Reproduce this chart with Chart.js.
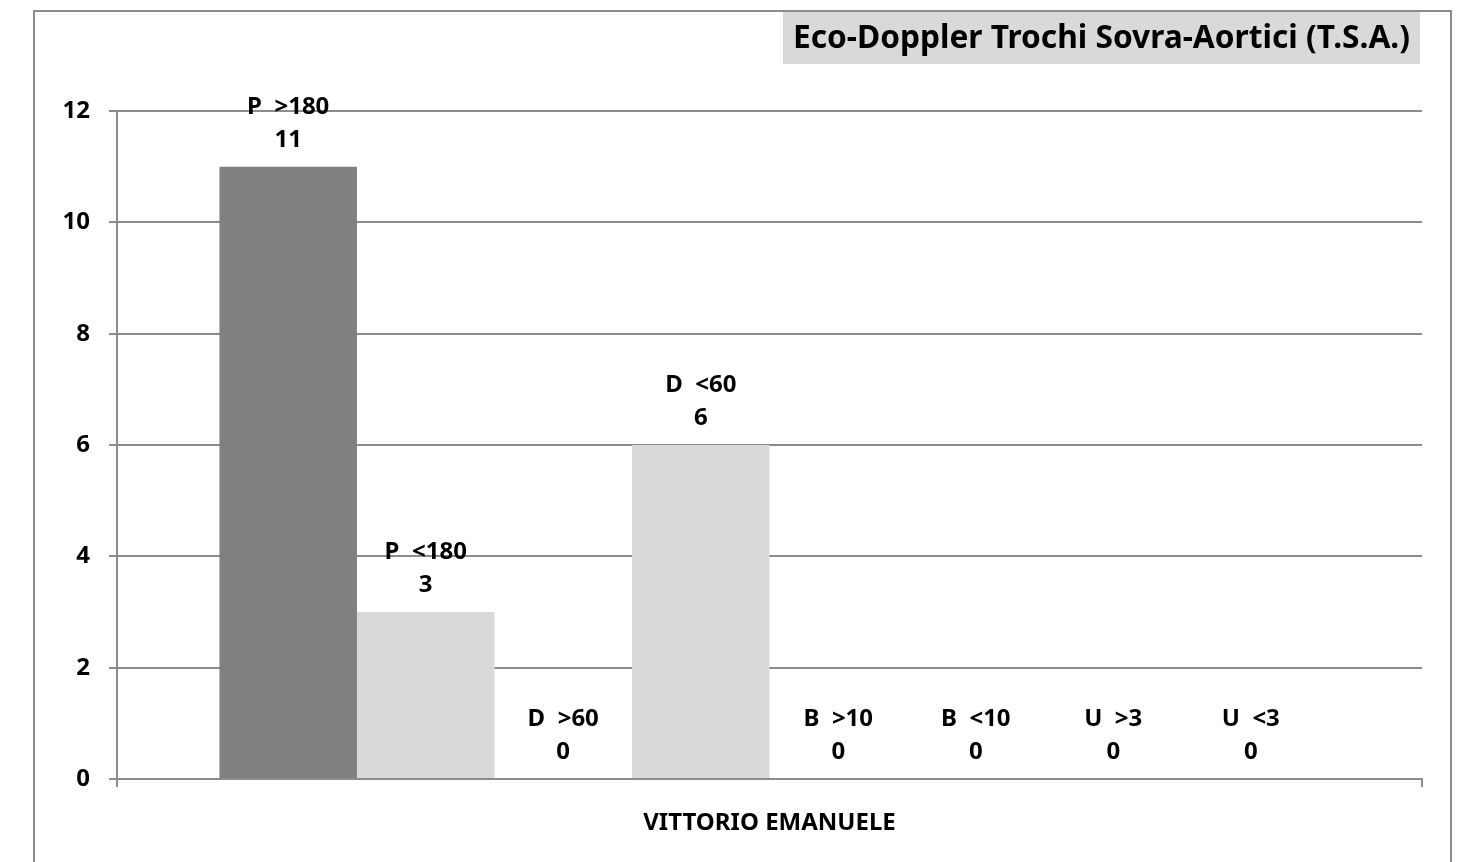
<!DOCTYPE html>
<html>
<head>
<meta charset="utf-8">
<script src="https://cdn.jsdelivr.net/npm/chart.js@4/dist/chart.umd.min.js"></script>
<style>
    html, body { margin: 0; padding: 0; background: #fff; overflow: hidden; }
    #cornice { position: absolute; left: 33px; top: 10px; width: 1415px; height: 900px; border: 2px solid #8c8c8c; }
    #contenitore { position: absolute; left: 0; top: 0; width: 1457px; height: 862px; }
</style>
</head>
<body>
<div id="cornice"></div>
<div id="contenitore"><canvas id="canvasTsa"></canvas></div>
<script>
const titolo = 'Eco-Doppler Trochi Sovra-Aortici (T.S.A.)'
const categorie = ['VITTORIO EMANUELE']
const serie = ['P  >180', 'P  <180', 'D  >60', 'D  <60', 'B  >10', 'B  <10', 'U  >3', 'U  <3']
const valori = [11, 3, 0, 6, 0, 0, 0, 0]
const coloriBarre = ['#808080', '#d9d9d9', '#d9d9d9', '#d9d9d9', '#d9d9d9', '#d9d9d9', '#d9d9d9', '#d9d9d9']
const tickY = [0, 2, 4, 6, 8, 10, 12]

const grigio = '#8c8c8c'
const font = '"Noto Sans"'

// titolo in alto a destra su fondo grigio
const titoloBox = {
    id: 'titoloBox',
    beforeDraw(chart) {
        const ctx = chart.ctx
        ctx.save()
        ctx.font = 'bold 31.7px ' + font
        const w = ctx.measureText(titolo).width
        const destra = 1410
        ctx.fillStyle = '#d9d9d9'
        ctx.fillRect(destra - w - 10, 12, w + 20, 52)
        ctx.fillStyle = '#000'
        ctx.textAlign = 'right'
        ctx.textBaseline = 'middle'
        ctx.fillText(titolo, destra, 39)
        ctx.restore()
    }
}

// nome della serie e valore sopra ogni barra
const etichette = {
    id: 'etichette',
    afterDatasetsDraw(chart) {
        const ctx = chart.ctx
        ctx.save()
        ctx.font = 'bold 24px ' + font
        ctx.fillStyle = '#000'
        ctx.textAlign = 'center'
        ctx.textBaseline = 'middle'
        chart.data.datasets.forEach((ds, i) => {
            const bar = chart.getDatasetMeta(i).data[0]
            ctx.fillText(String(ds.data[0]), bar.x, bar.y - 27)
            ctx.fillText(ds.label, bar.x, bar.y - 60)
        })
        ctx.restore()
    }
}

const canvasTsa = document.getElementById('canvasTsa').getContext('2d')

tsaChart(canvasTsa)

function tsaChart(canvas) {
    new Chart(canvas, {
        type: 'bar',
        data: {
            labels: categorie,
            datasets: serie.map((nome, i) => ({
                label: nome,
                data: [valori[i]],
                backgroundColor: coloriBarre[i],
                borderWidth: 0
            }))
        },
        options: {
            responsive: true,
            maintainAspectRatio: false,
            animation: false,
            categoryPercentage: 0.843,
            barPercentage: 1,
            layout: {
                padding: { top: 111, right: 35, bottom: 0, left: 0 }
            },
            plugins: {
                legend: { display: false },
                title: { display: false },
                tooltip: { enabled: false }
            },
            scales: {
                x: {
                    grid: {
                        display: true,
                        drawOnChartArea: false,
                        tickLength: 8,
                        color: grigio,
                        lineWidth: 2
                    },
                    border: { display: true, color: grigio, width: 2 },
                    ticks: {
                        color: '#000',
                        font: { family: font, size: 24, weight: 'bold' },
                        padding: 22
                    },
                    afterFit(scale) { scale.height = 83 }
                },
                y: {
                    min: tickY[0],
                    max: tickY[tickY.length - 1],
                    afterBuildTicks(scale) {
                        scale.ticks = tickY.map(v => ({ value: v }))
                    },
                    grid: {
                        color: grigio,
                        lineWidth: 2,
                        tickLength: 8
                    },
                    border: { display: true, color: grigio, width: 2 },
                    ticks: {
                        color: '#000',
                        font: { family: font, size: 24, weight: 'bold' },
                        padding: 19
                    },
                    afterFit(scale) { scale.width = 117 }
                }
            }
        },
        plugins: [titoloBox, etichette]
    })
}
</script>
</body>
</html>
